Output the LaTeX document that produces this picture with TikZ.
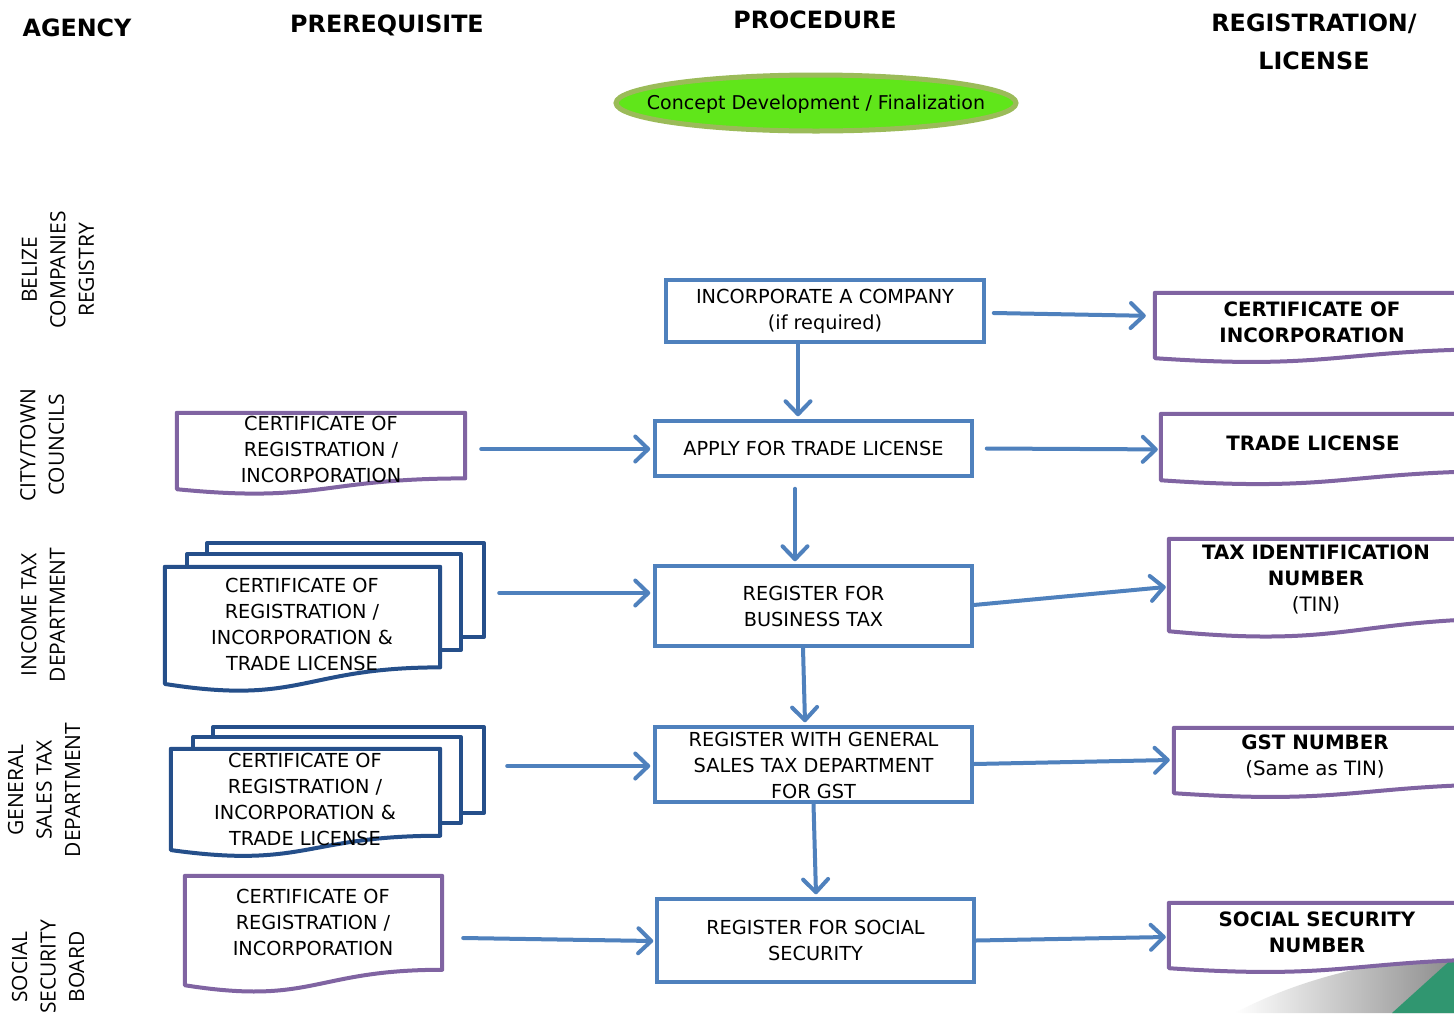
\documentclass[tikz,border=0pt]{standalone}
\usepackage{fontspec}
\setmainfont{DejaVu Sans}
\newfontfamily\agfont{Open Sans}
\usetikzlibrary{arrows.meta,calc,shapes.geometric}
\definecolor{boxblue}{RGB}{79,129,189}
\definecolor{docpurple}{RGB}{128,100,162}
\definecolor{docnavy}{RGB}{37,79,138}
\definecolor{ellfill}{RGB}{96,230,26}
\definecolor{ellborder}{RGB}{155,187,89}
\definecolor{decogreen}{RGB}{48,150,112}
\newcommand\docoutline[2]{%
  \draw[#2] let \p1=(#1.north west), \p2=(#1.south east) in
   (\x1,\y1) -- (\x2,\y1) -- (\x2,{\y1+0.802*(\y2-\y1)})
   .. controls ({0.5*(\x1+\x2)},{\y1+0.802*(\y2-\y1)}) and ({0.5*(\x1+\x2)},{\y1+1.108*(\y2-\y1)}) ..
   (\x1,{\y1+0.934*(\y2-\y1)}) -- cycle;}
\tikzset{
  x=1pt, y=-1pt,
  boxtxt/.style={font=\fontsize{19.3}{26}\selectfont, align=center, inner sep=0pt},
  boldtxt/.style={font=\bfseries\fontsize{19.8}{26}\selectfont, align=center, inner sep=0pt},
  header/.style={font=\bfseries\fontsize{23.8}{38}\selectfont, align=center, inner sep=0pt},
  agency/.style={font=\agfont\fontsize{21}{28.5}\selectfont, align=center, inner sep=0pt, rotate=90},
  proc/.style={draw=boxblue, line width=3.5pt, fill=white, inner sep=0pt, align=center,
    font=\fontsize{19.3}{26}\selectfont},
  docbox/.style={inner sep=0pt, draw=none},
  purpledoc/.style={draw=docpurple, line width=4pt, fill=white, line join=round},
  navydoc/.style={draw=docnavy, line width=4pt, fill=white, line join=round},
  flow/.style={draw=boxblue, line width=4pt, line cap=round,
    -{Straight Barb[length=13pt,width=25pt,line cap=round,line join=round]}},
}
\begin{document}
\begin{tikzpicture}
\useasboundingbox (0,0) rectangle (1454,1013);
\begin{scope}
\clip (0,0) rectangle (1454,1013);
\fill[white] (0,0) rectangle (1454,1013);

% headers
\node[header] (hA) at (77,28) {AGENCY};
\node[header] (hB) at (387,25) {PREREQUISITE};
\node[header] (hC) at (815,20) {PROCEDURE};
\node[header] (hD) at (1314,42) {REGISTRATION/\\LICENSE};

% agency labels
\node[agency] (a1) at (58,270) {BELIZE\\COMPANIES\\REGISTRY};
\node[agency] (a2) at (42,445) {CITY/TOWN\\COUNCILS};
\node[agency] (a3) at (43,615) {INCOME TAX\\DEPARTMENT};
\node[agency] (a4) at (44,790) {GENERAL\\SALES TAX\\DEPARTMENT};
\node[agency] (a5) at (48,967) {SOCIAL\\SECURITY\\BOARD};

% concept ellipse
\node[ellipse, draw=ellborder, line width=5pt, fill=ellfill, minimum width=400pt,
  minimum height=56pt, inner sep=0pt] (E) at (816,103) {};
\node[font=\fontsize{19}{24}\selectfont, inner sep=0pt] (Et) at (816,104)
  {Concept Development / Finalization};

% procedure boxes
\node[proc, minimum width=318pt, minimum height=62pt] (P1) at (825,311)
  {INCORPORATE A COMPANY\\(if required)};
\node[proc, minimum width=317pt, minimum height=55pt] (P2) at (813.5,448.5)
  {APPLY FOR TRADE LICENSE};
\node[proc, minimum width=317pt, minimum height=80pt] (P3) at (813.5,606)
  {REGISTER FOR\\BUSINESS TAX};
\node[proc, minimum width=317pt, minimum height=75pt] (P4) at (813.5,764.5) {};
\node[boxtxt] (P4t) at (813.5,765) {REGISTER WITH GENERAL\\SALES TAX DEPARTMENT\\FOR GST};
\node[proc, minimum width=317pt, minimum height=83pt] (P5) at (815.5,940.5)
  {REGISTER FOR SOCIAL\\SECURITY};

% prerequisite documents
\node[docbox, minimum width=288pt, minimum height=81.4pt] (L1) at (321,453.7) {};
\docoutline{L1}{purpledoc}
\node[boxtxt] (L1t) at (321,449) {CERTIFICATE OF\\REGISTRATION /\\INCORPORATION};

\filldraw[navydoc] (207,543) rectangle (484,637);
\filldraw[navydoc] (187,554) rectangle (461,650);
\node[docbox, minimum width=275pt, minimum height=125pt] (M1) at (302.5,629.5) {};
\docoutline{M1}{navydoc}
\node[boxtxt] (M1t) at (302,624.5) {CERTIFICATE OF\\REGISTRATION /\\INCORPORATION \&\\TRADE LICENSE};

\filldraw[navydoc] (213,727) rectangle (484,813);
\filldraw[navydoc] (193,737) rectangle (461,823);
\node[docbox, minimum width=269pt, minimum height=108pt] (M2) at (305.5,803) {};
\docoutline{M2}{navydoc}
\node[boxtxt] (M2t) at (305,799.5) {CERTIFICATE OF\\REGISTRATION /\\INCORPORATION \&\\TRADE LICENSE};

\node[docbox, minimum width=257pt, minimum height=116.7pt] (L4) at (313.5,934.4) {};
\docoutline{L4}{purpledoc}
\node[boxtxt] (L4t) at (313,922) {CERTIFICATE OF\\REGISTRATION /\\INCORPORATION};

% bottom-right decoration
\shade[left color=white, right color=black!45] (1235,1013) .. controls (1300,978) and (1380,960) .. (1454,955) -- (1454,1013) -- cycle;
\fill[decogreen] (1392,1013) -- (1454,957) -- (1454,1013) -- cycle;

% registration documents
\node[docbox, minimum width=360pt, minimum height=69.6pt] (R1) at (1335,327.8) {};
\docoutline{R1}{purpledoc}
\node[boldtxt] (R1t) at (1312,322) {CERTIFICATE OF\\INCORPORATION};

\node[docbox, minimum width=360pt, minimum height=70.7pt] (R2) at (1341,449.4) {};
\docoutline{R2}{purpledoc}
\node[boldtxt] (R2t) at (1313,443) {TRADE LICENSE};

\node[docbox, minimum width=360pt, minimum height=98.5pt] (R3) at (1349,588.3) {};
\docoutline{R3}{purpledoc}
\node[boldtxt] (R3t) at (1316,579) {TAX IDENTIFICATION\\NUMBER\\\mdseries(TIN)};

\node[docbox, minimum width=360pt, minimum height=69.6pt] (R4) at (1354,762.8) {};
\docoutline{R4}{purpledoc}
\node[boldtxt] (R4t) at (1315,756) {GST NUMBER\\\mdseries(Same as TIN)};

\node[docbox, minimum width=360pt, minimum height=69.6pt] (R5) at (1349,937.8) {};
\docoutline{R5}{purpledoc}
\node[boldtxt] (R5t) at (1317,932) {SOCIAL SECURITY\\NUMBER};

% connectors
\draw[flow] ([shift={(8,2)}]P1.east) -- ([shift={(-9,-12)}]R1.west);
\draw[flow] ([xshift=-27pt]P1.south) -- ([shift={(-15.5,-3)}]P2.north);
\draw[flow] ([shift={(16,-4.7)}]L1.east) -- ([shift={(-3,0.5)}]P2.west);
\draw[flow] ([xshift=13pt]P2.east) -- ([shift={(-3,0)}]R2.west);
\draw[flow] ([shift={(-18.5,11)}]P2.south) -- ([shift={(-18.5,-3)}]P3.north);
\draw[flow] ([shift={(59,-36.5)}]M1.east) -- ([shift={(-3,-13)}]P3.west);
\draw[flow] ([shift={(0,-1)}]P3.east) -- ([shift={(-3,-1.3)}]R3.west);
\draw[flow] ([xshift=-10.5pt]P3.south) -- ([shift={(-8.5,-3)}]P4.north);
\draw[flow] ([shift={(67,-37)}]M2.east) -- ([shift={(-3,1.5)}]P4.west);
\draw[flow] ([shift={(0,-0.5)}]P4.east) -- ([shift={(-4,-2.8)}]R4.west);
\draw[flow] (P4.south) -- ([shift={(0.5,-3)}]P5.north);
\draw[flow] ([shift={(21,3.6)}]L4.east) -- ([shift={(-2,0.5)}]P5.west);
\draw[flow] (P5.east) -- ([shift={(-3,-0.8)}]R5.west);
\end{scope}
\end{tikzpicture}
\end{document}
